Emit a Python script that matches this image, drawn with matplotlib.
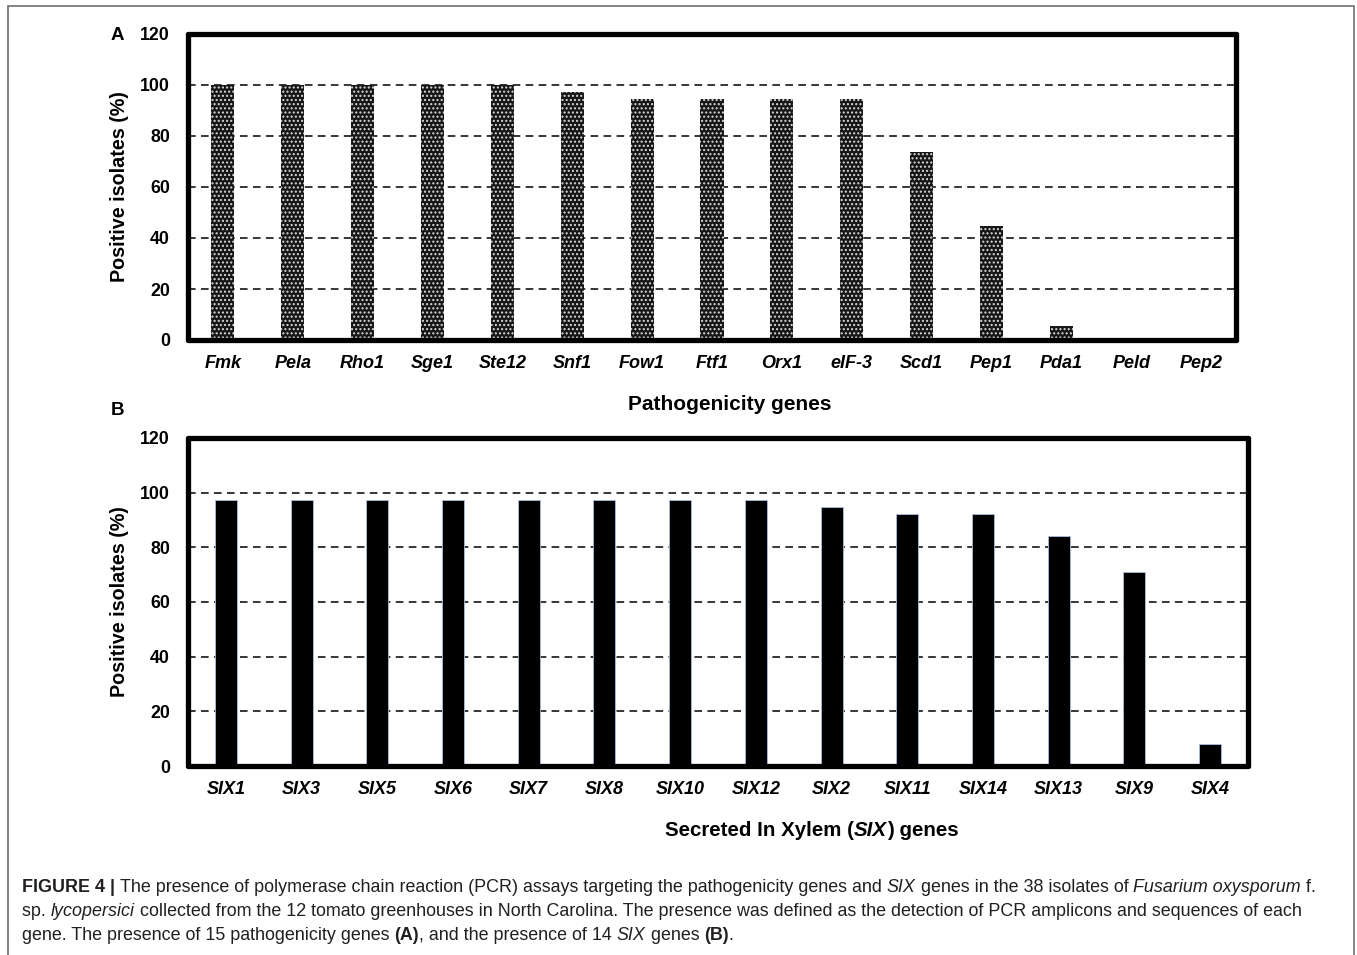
import matplotlib
matplotlib.use("Agg")
import matplotlib.pyplot as plt
from matplotlib.patches import Rectangle

plt.rcParams['font.family'] = ['Liberation Sans', 'DejaVu Sans']

# Panel A: pathogenicity genes (% of 38 isolates)
path_genes = ['Fmk', 'Pela', 'Rho1', 'Sge1', 'Ste12', 'Snf1', 'Fow1', 'Ftf1',
              'Orx1', 'eIF-3', 'Scd1', 'Pep1', 'Pda1', 'Peld', 'Pep2']
path_pct = [100, 100, 100, 100, 100, 97.4, 94.7, 94.7, 94.7, 94.7,
            73.7, 44.7, 5.3, 0, 0]

# Panel B: SIX genes (% of 38 isolates)
six_genes = ['SIX1', 'SIX3', 'SIX5', 'SIX6', 'SIX7', 'SIX8', 'SIX10', 'SIX12',
             'SIX2', 'SIX11', 'SIX14', 'SIX13', 'SIX9', 'SIX4']
six_pct = [97.4, 97.4, 97.4, 97.4, 97.4, 97.4, 97.4, 97.4,
           94.7, 92.1, 92.1, 84.2, 71.1, 7.9]

yticks = [0, 20, 40, 60, 80, 100, 120]

W, H = 1357, 955
fig = plt.figure(figsize=(W / 100, H / 100), dpi=100)


def px(x, y):
    return x / W, 1 - y / H


def style_axes(ax, n):
    ax.set_xlim(-0.5, n - 0.5)
    ax.set_ylim(0, 120)
    ax.set_yticks(yticks)
    ax.set_yticklabels([str(v) for v in yticks], fontsize=12.8, fontweight='bold')
    ax.tick_params(axis='both', length=0)
    ax.tick_params(axis='y', pad=13)
    ax.tick_params(axis='x', pad=11)
    for s in ax.spines.values():
        s.set_linewidth(3.8)
        s.set_capstyle('round')
        s.set_joinstyle('round')
    for v in yticks[1:-1]:
        ax.axhline(v, color='black', lw=1.1, ls=(0, (5, 3.5)), zorder=1)
    ax.set_ylabel('Positive isolates (%)', fontsize=14.2, fontweight='bold', labelpad=8)


# panel A
axA = fig.add_axes([188 / W, 1 - 340 / H, (1236 - 188) / W, (340 - 34) / H])
style_axes(axA, len(path_genes))
axA.bar(range(len(path_genes)), path_pct, width=0.33, color='#161616',
        edgecolor='#d8d8d8', linewidth=0, hatch='....', zorder=2)
axA.set_xticks(range(len(path_genes)))
axA.set_xticklabels(path_genes, fontsize=13, fontweight='bold', style='italic')

# panel B
axB = fig.add_axes([188 / W, 1 - 766 / H, (1248 - 188) / W, (766 - 438) / H])
style_axes(axB, len(six_genes))
axB.bar(range(len(six_genes)), six_pct, width=0.29, color='black',
        edgecolor='#a9bfdf', linewidth=0.6, zorder=2)
axB.set_xticks(range(len(six_genes)))
axB.set_xticklabels(six_genes, fontsize=13, fontweight='bold', style='italic')

# panel letters and x titles
fig.text(*px(117, 35), 'A', fontsize=13.5, fontweight='bold', ha='center', va='center')
fig.text(*px(117, 410), 'B', fontsize=13.5, fontweight='bold', ha='center', va='center')
fig.text(*px(730, 404), 'Pathogenicity genes', fontsize=15, fontweight='bold',
         ha='center', va='center')


def rich_line(x, y, runs, size, color='#231f20'):
    renderer = fig.canvas.get_renderer()
    cx = x
    for txt, weight, style in runs:
        t = fig.text(cx / W, 1 - y / H, txt, fontsize=size, fontweight=weight,
                     style=style, color=color, va='baseline', ha='left')
        bb = t.get_window_extent(renderer=renderer)
        cx += bb.width


rich_line(665, 836, [('Secreted In Xylem (', 'bold', 'normal'),
                     ('SIX', 'bold', 'italic'),
                     (') genes', 'bold', 'normal')], 14.8, color='black')

# outer frame
fig.add_artist(Rectangle((8 / W, -0.05), (1354 - 8) / W, 1.05 - 6 / H,
                         transform=fig.transFigure, fill=False,
                         edgecolor='#6e6e6e', lw=1.2))

cap = 12.9
rich_line(22, 892, [('FIGURE 4 | ', 'bold', 'normal'),
                    ('The presence of polymerase chain reaction (PCR) assays targeting the '
                     'pathogenicity genes and ', 'normal', 'normal'),
                    ('SIX', 'normal', 'italic'),
                    (' genes in the 38 isolates of ', 'normal', 'normal'),
                    ('Fusarium oxysporum', 'normal', 'italic'),
                    (' f.', 'normal', 'normal')], cap)
rich_line(22, 916, [('sp. ', 'normal', 'normal'),
                    ('lycopersici', 'normal', 'italic'),
                    (' collected from the 12 tomato greenhouses in North Carolina. The presence '
                     'was defined as the detection of PCR amplicons and sequences of each',
                     'normal', 'normal')], cap)
rich_line(22, 940, [('gene. The presence of 15 pathogenicity genes ', 'normal', 'normal'),
                    ('(A)', 'bold', 'normal'),
                    (', and the presence of 14 ', 'normal', 'normal'),
                    ('SIX', 'normal', 'italic'),
                    (' genes ', 'normal', 'normal'),
                    ('(B)', 'bold', 'normal'),
                    ('.', 'normal', 'normal')], cap)

fig.savefig('out.png', dpi=100)
